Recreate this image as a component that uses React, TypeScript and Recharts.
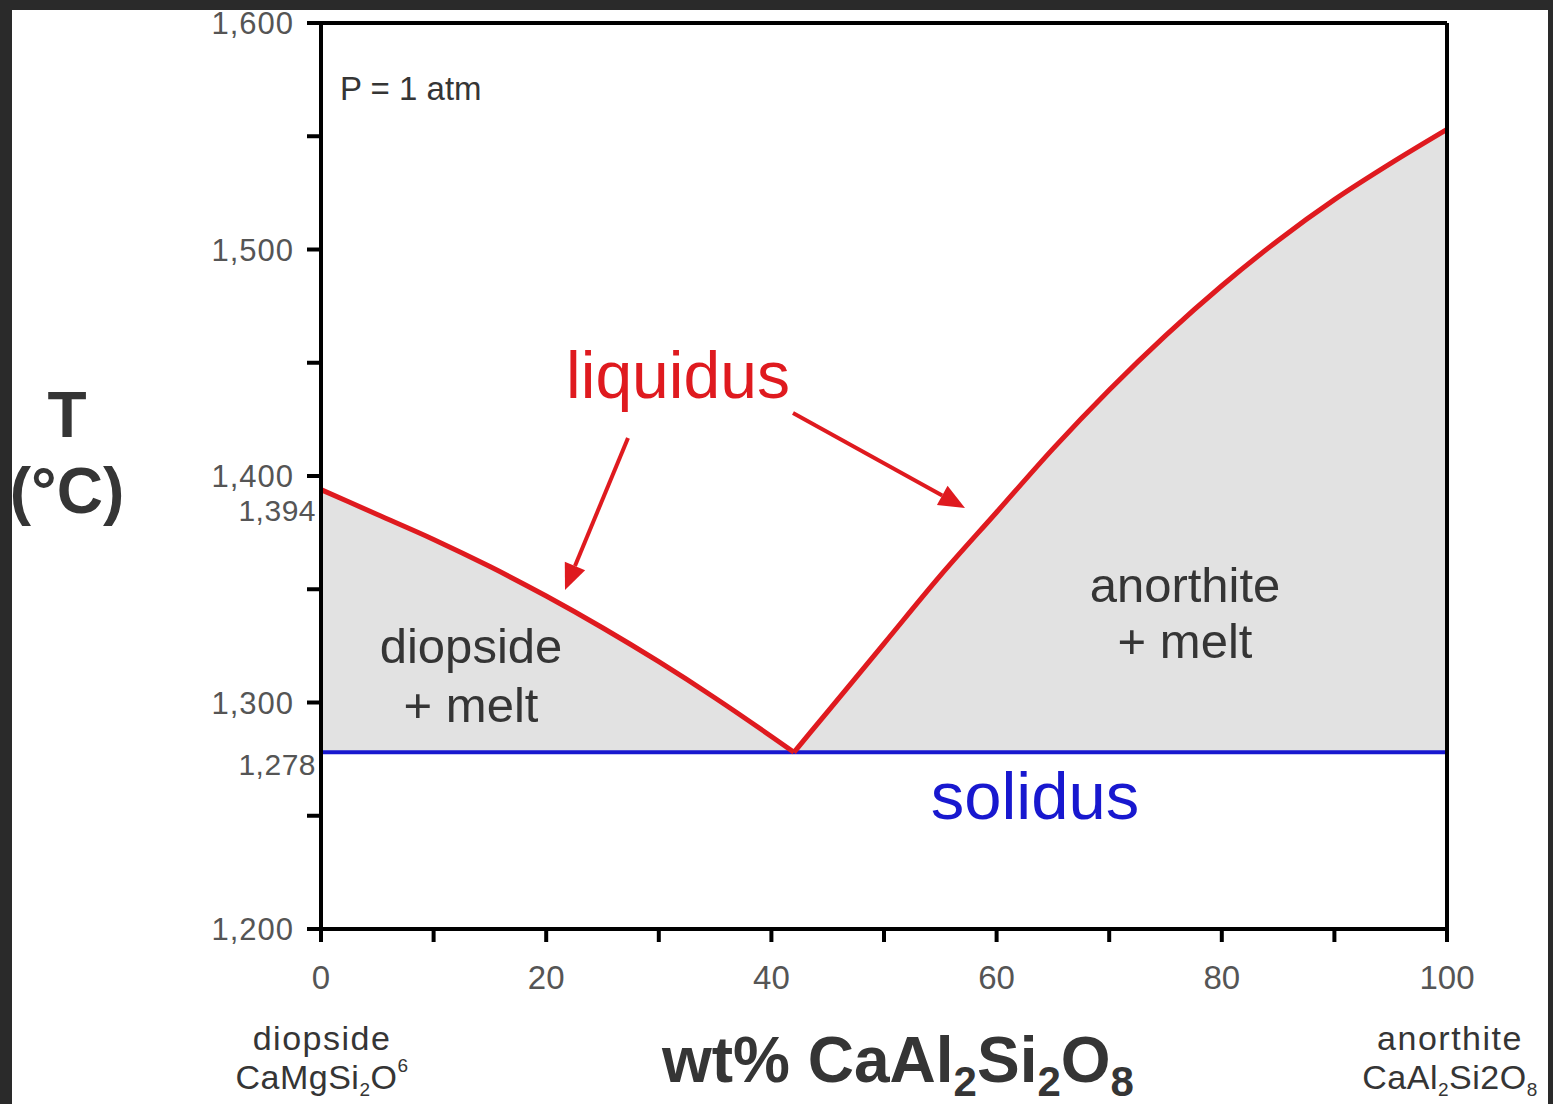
import { Area, ComposedChart, Line, ReferenceLine, XAxis, YAxis } from "recharts";

// liquidus, diopside side (wt% anorthite -> °C)
const LEFT_X = [0, 5, 10, 15, 20, 25, 30, 35, 40, 42];
const LEFT_T = [1394, 1383, 1372, 1360, 1347, 1333, 1318, 1302, 1285, 1278];

// liquidus, anorthite side
const RIGHT_X = [42, 45, 50, 55, 60, 65, 70, 75, 80, 85, 90, 95, 100];
const RIGHT_T = [1278, 1296, 1326, 1356, 1384, 1412, 1438, 1462, 1484, 1504, 1522, 1538, 1553];

const SOLIDUS_T = 1278;

const X_TICKS = [0, 10, 20, 30, 40, 50, 60, 70, 80, 90, 100];
const Y_TICKS = [1200, 1250, 1300, 1350, 1400, 1450, 1500, 1550, 1600];
const Y_MARKED = [1278, 1394];
const RIGHT_TICKS = [1553];

const leftBranch = LEFT_X.map((x, i) => ({ x, T: LEFT_T[i] }));
const rightBranch = RIGHT_X.map((x, i) => ({ x, T: RIGHT_T[i] }));

const FONT = '"Liberation Sans", Arial, sans-serif';
const NARROW = '"Liberation Sans Narrow", "Liberation Sans", Arial, sans-serif';
const RED = "#df1a1f";
const BLUE = "#1818cf";
const TEXT = "#353535";
const TICK = "#555";

const fmt = (v: number) => v.toLocaleString("en-US");

function YTick({ x, y, payload }: any) {
  const v = payload.value as number;
  if (Y_MARKED.includes(v)) {
    // labels for the invariant points sit just below their true position
    return (
      <text x={x - 5} y={y} dy={v === 1394 ? 31 : 23} textAnchor="end" fontSize={30} letterSpacing={0.5} fontFamily={FONT} fill={TICK}>
        {fmt(v)}
      </text>
    );
  }
  return (
    <g>
      <line x1={x - 14} x2={x} y1={y} y2={y} stroke="#000" strokeWidth={4} />
      {v % 100 === 0 && (
        <text x={x - 27} y={y} dy={11} textAnchor="end" fontSize={31} letterSpacing={1} fontFamily={FONT} fill={TICK}>
          {fmt(v)}
        </text>
      )}
    </g>
  );
}

function RightTick({ x, y, payload }: any) {
  return (
    <text x={x + 17} y={y} dy={11} textAnchor="start" fontSize={31} letterSpacing={0.5} fontFamily={FONT} fill={TICK}>
      {fmt(payload.value)}
    </text>
  );
}

function XTick({ x, y, payload }: any) {
  const v = payload.value as number;
  return (
    <g>
      <line x1={x} x2={x} y1={y} y2={y + 13} stroke="#000" strokeWidth={4} />
      {v % 20 === 0 && (
        <text x={x} y={y + 60} textAnchor="middle" fontSize={33} fontFamily={NARROW} fill={TICK}>
          {v}
        </text>
      )}
    </g>
  );
}

function Arrow({ x1, y1, x2, y2 }: { x1: number; y1: number; x2: number; y2: number }) {
  const a = Math.atan2(y2 - y1, x2 - x1);
  const len = 26;
  const half = 11;
  const bx = x2 - len * Math.cos(a);
  const by = y2 - len * Math.sin(a);
  const px = -Math.sin(a) * half;
  const py = Math.cos(a) * half;
  return (
    <g>
      <line x1={x1} y1={y1} x2={bx} y2={by} stroke={RED} strokeWidth={4} />
      <polygon points={`${x2},${y2} ${bx + px},${by + py} ${bx - px},${by - py}`} fill={RED} />
    </g>
  );
}

function Annotations() {
  return (
    <svg
      width={1553}
      height={1104}
      style={{ position: "absolute", left: 0, top: 0, pointerEvents: "none" }}
      fontFamily={FONT}
    >
      <text x={340} y={100} fontSize={33} fill={TEXT}>P = 1 atm</text>

      <text x={678} y={398} fontSize={66} fill={RED} textAnchor="middle">liquidus</text>
      <Arrow x1={628} y1={438} x2={565} y2={590} />
      <Arrow x1={793} y1={413} x2={965} y2={508} />

      <text x={471} y={663} fontSize={49} fill={TEXT} textAnchor="middle">diopside</text>
      <text x={471} y={722} fontSize={49} fill={TEXT} textAnchor="middle">+ melt</text>
      <text x={1185} y={602} fontSize={49} fill={TEXT} textAnchor="middle">anorthite</text>
      <text x={1185} y={658} fontSize={49} fill={TEXT} textAnchor="middle">+ melt</text>

      <text x={1035} y={819} fontSize={67} fill={BLUE} textAnchor="middle">solidus</text>

      <text x={67} y={437} fontSize={64} fontWeight="bold" fill={TEXT} textAnchor="middle">T</text>
      <text x={67} y={513} fontSize={64} fontWeight="bold" fill={TEXT} textAnchor="middle">(°C)</text>

      <text x={662} y={1082} fontSize={64} fontWeight="bold" fill={TEXT}>
        wt% CaAl
        <tspan fontSize={42} dy={14}>2</tspan>
        <tspan dy={-14}>Si</tspan>
        <tspan fontSize={42} dy={14}>2</tspan>
        <tspan dy={-14}>O</tspan>
        <tspan fontSize={42} dy={14}>8</tspan>
      </text>

      <text x={322} y={1050} fontSize={34} letterSpacing={1.5} fill={TEXT} textAnchor="middle">diopside</text>
      <text x={322} y={1089} fontSize={34} letterSpacing={0.5} fill={TEXT} textAnchor="middle">
        CaMgSi
        <tspan fontSize={19} dy={7}>2</tspan>
        <tspan dy={-7}>O</tspan>
        <tspan fontSize={19} dy={-17}>6</tspan>
      </text>

      <text x={1450} y={1050} fontSize={34} letterSpacing={1.5} fill={TEXT} textAnchor="middle">anorthite</text>
      <text x={1450} y={1089} fontSize={34} letterSpacing={0.5} fill={TEXT} textAnchor="middle">
        CaAl
        <tspan fontSize={19} dy={7}>2</tspan>
        <tspan dy={-7}>Si2O</tspan>
        <tspan fontSize={19} dy={7}>8</tspan>
      </text>
    </svg>
  );
}

export default function App() {
  return (
    <div style={{ position: "fixed", left: 0, top: 0, width: 1553, height: 1104, background: "#2a2a2a", overflow: "hidden" }}>
      <div style={{ position: "absolute", left: 12, top: 10, width: 1536, height: 1094, background: "#fff" }} />
      <div style={{ position: "absolute", left: 0, top: 0 }}>
        <ComposedChart width={1553} height={1104} margin={{ top: 23, right: 0, bottom: 0, left: 0 }}>
          <XAxis
            dataKey="x"
            type="number"
            domain={[0, 100]}
            ticks={X_TICKS}
            interval={0}
            height={175}
            tick={<XTick />}
            tickLine={false}
            tickSize={0}
            tickMargin={0}
            axisLine={{ stroke: "#000", strokeWidth: 4 }}
          />
          <YAxis
            type="number"
            domain={[1200, 1600]}
            ticks={[...Y_TICKS, ...Y_MARKED]}
            interval={0}
            width={321}
            tick={<YTick />}
            tickLine={false}
            tickSize={0}
            tickMargin={0}
            axisLine={{ stroke: "#000", strokeWidth: 4 }}
          />
          <YAxis
            yAxisId="right"
            orientation="right"
            type="number"
            domain={[1200, 1600]}
            ticks={RIGHT_TICKS}
            interval={0}
            width={106}
            tick={<RightTick />}
            tickLine={false}
            tickSize={0}
            tickMargin={0}
            axisLine={{ stroke: "#000", strokeWidth: 4 }}
          />
          <Area
            data={leftBranch}
            dataKey="T"
            type="monotone"
            baseValue={SOLIDUS_T}
            fill="#e2e2e2"
            fillOpacity={1}
            stroke="none"
            isAnimationActive={false}
          />
          <Area
            data={rightBranch}
            dataKey="T"
            type="monotone"
            baseValue={SOLIDUS_T}
            fill="#e2e2e2"
            fillOpacity={1}
            stroke="none"
            isAnimationActive={false}
          />
          <ReferenceLine y={SOLIDUS_T} stroke={BLUE} strokeWidth={4} />
          <Line data={leftBranch} dataKey="T" type="monotone" stroke={RED} strokeWidth={5} dot={false} isAnimationActive={false} />
          <Line data={rightBranch} dataKey="T" type="monotone" stroke={RED} strokeWidth={5} dot={false} isAnimationActive={false} />
          <ReferenceLine y={1600} stroke="#000" strokeWidth={4} />
        </ComposedChart>
      </div>
      <Annotations />
    </div>
  );
}
